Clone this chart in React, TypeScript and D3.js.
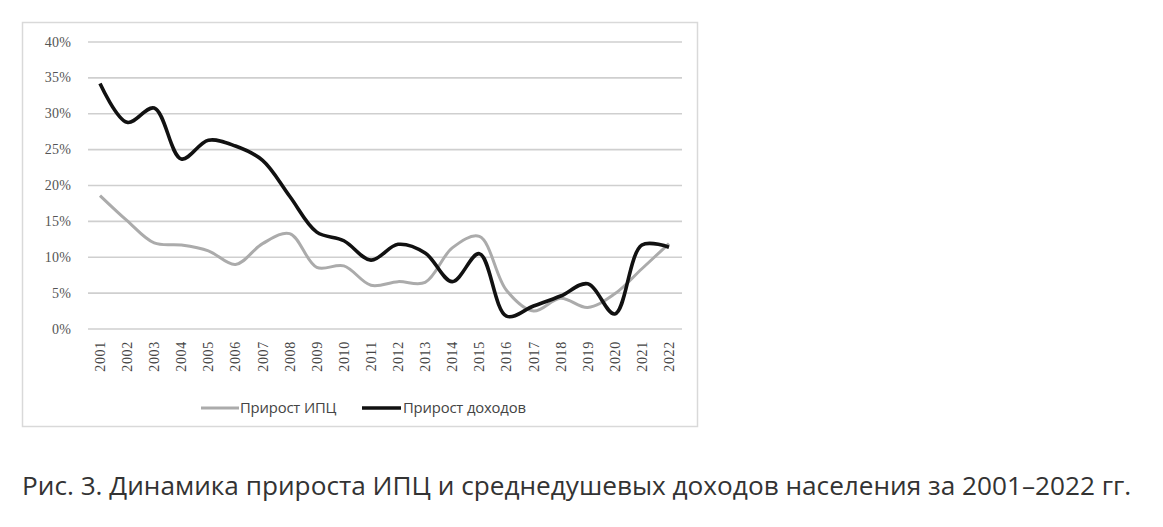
import React from "react";
import * as d3 from "d3";

const years = [2001,2002,2003,2004,2005,2006,2007,2008,2009,2010,2011,2012,2013,2014,2015,2016,2017,2018,2019,2020,2021,2022];
const cpiGrowth = [18.6,15.1,12.0,11.7,10.9,9.0,11.9,13.3,8.6,8.8,6.1,6.6,6.5,11.3,12.9,5.4,2.5,4.3,3.0,4.9,8.4,11.9];
const incomeGrowth = [34.2,28.8,30.8,23.7,26.3,25.5,23.5,18.5,13.5,12.3,9.6,11.8,10.6,6.6,10.5,1.8,3.2,4.6,6.3,2.1,11.7,11.4];
const yTicks = [0,5,10,15,20,25,30,35,40];
const seriesNames = ["Прирост ИПЦ", "Прирост доходов"];
const caption = "Рис. 3. Динамика прироста ИПЦ и среднедушевых доходов населения за 2001–2022 гг.";

export default function App() {
  const W = 1163, H = 527;
  const x = d3.scaleLinear().domain([2001, 2022]).range([100, 669]);
  const y = d3.scaleLinear().domain([0, 40]).range([329, 42]);
  const line = d3.line<number>()
    .x((_, i) => x(years[i]))
    .y((v) => y(v))
    .curve(d3.curveCatmullRom.alpha(0.5));
  const serif = "'Liberation Serif', 'DejaVu Serif', serif";
  const sans = "'Open Sans', 'Noto Sans', sans-serif";
  return (
    <svg width={W} height={H} style={{ position: "absolute", left: 0, top: 0, background: "#fff" }}>
      <rect x={22.5} y={22.5} width={675} height={404} fill="#fff" stroke="#d9d9d9" strokeWidth={1.5} />
      {yTicks.map((t) => (
        <g key={t}>
          <line x1={88} x2={682} y1={y(t)} y2={y(t)} stroke="#cfcfcf" strokeWidth={1.6} />
          <text x={71} y={y(t) + 4.5} textAnchor="end" fontFamily={serif} fontSize={14} fill="#555" letterSpacing={0.2}>{t}%</text>
        </g>
      ))}
      {years.map((yr) => (
        <text key={yr} transform={`translate(${x(yr) + 5},${341}) rotate(-90)`} textAnchor="end" fontFamily={serif} fontSize={14} fill="#444" letterSpacing={0.7}>{yr}</text>
      ))}
      <path d={line(cpiGrowth) || ""} fill="none" stroke="#ababab" strokeWidth={3} />
      <path d={line(incomeGrowth) || ""} fill="none" stroke="#111" strokeWidth={3.6} />
      <g>
        <line x1={201} x2={239} y1={408} y2={408} stroke="#ababab" strokeWidth={3} />
        <text x={240} y={413} fontFamily={sans} fontSize={14.8} fill="#444" letterSpacing={-0.15}>{seriesNames[0]}</text>
        <line x1={362} x2={401} y1={408} y2={408} stroke="#111" strokeWidth={3.6} />
        <text x={403} y={413} fontFamily={sans} fontSize={14.8} fill="#444" letterSpacing={-0.15}>{seriesNames[1]}</text>
      </g>
      <text x={22} y={495} fontFamily={sans} fontSize={26.2} fill="#333">{caption}</text>
    </svg>
  );
}
